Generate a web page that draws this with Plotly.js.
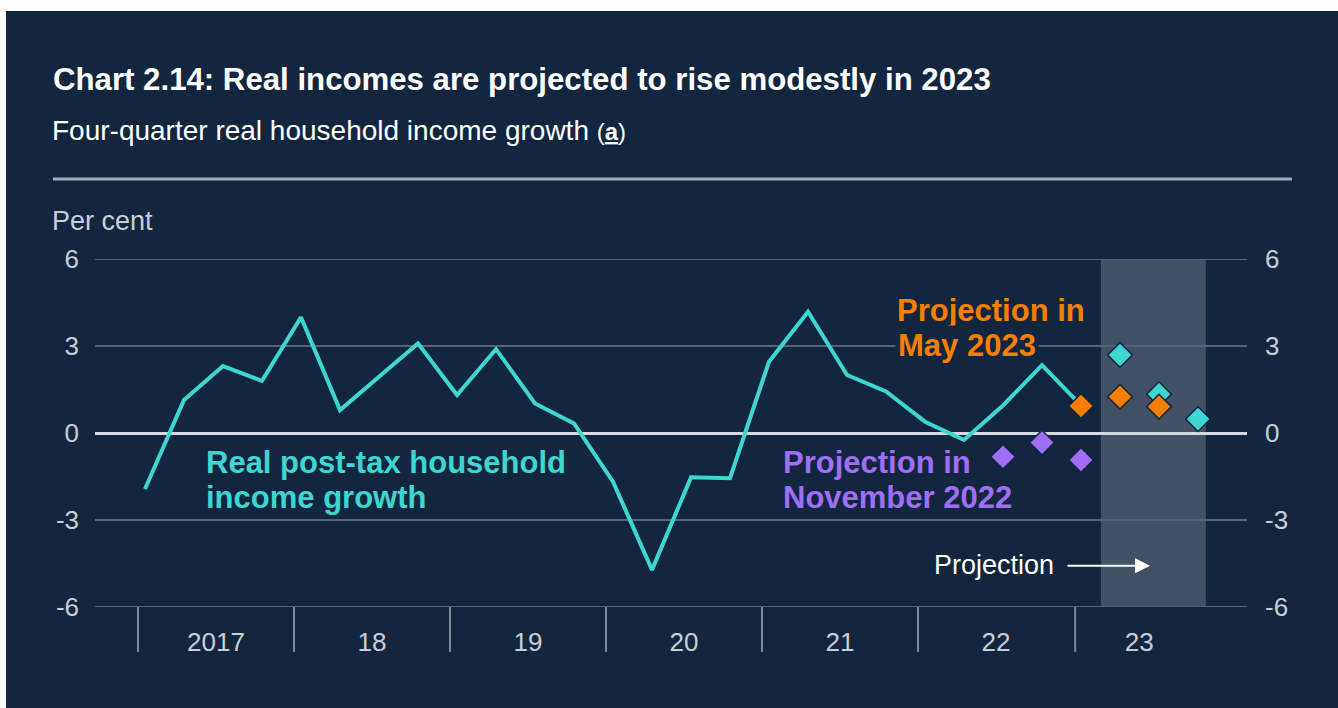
<!DOCTYPE html>
<html>
<head>
<meta charset="utf-8">
<script src="https://cdn.plot.ly/plotly-3.0.1.min.js"></script>
<style>
  html, body { margin: 0; padding: 0; background: #ffffff; width: 1338px; height: 708px; overflow: hidden; }
  #chart { position: absolute; left: 6px; top: 11px; width: 1332px; height: 697px; }
</style>
</head>
<body>
<div id="chart"></div>
<script>
// ---- data ----
const quarters = [
  "2017 Q1","2017 Q2","2017 Q3","2017 Q4",
  "2018 Q1","2018 Q2","2018 Q3","2018 Q4",
  "2019 Q1","2019 Q2","2019 Q3","2019 Q4",
  "2020 Q1","2020 Q2","2020 Q3","2020 Q4",
  "2021 Q1","2021 Q2","2021 Q3","2021 Q4",
  "2022 Q1","2022 Q2","2022 Q3","2022 Q4",
  "2023 Q1","2023 Q2","2023 Q3","2023 Q4"
];
const incomeGrowth = [-1.93, 1.14, 2.31, 1.80, 3.99, 0.79, 1.94, 3.09, 1.31, 2.89, 1.02, 0.33,
  -1.68, -4.72, -1.53, -1.56, 2.46, 4.18, 2.00, 1.43, 0.39, -0.24, 0.95, 2.34, 0.95];
const currentProjQuarters = ["2023 Q2", "2023 Q3", "2023 Q4"];
const currentProjValues = [2.69, 1.34, 0.48];
const mayProjQuarters = ["2023 Q1", "2023 Q2", "2023 Q3"];
const mayProjValues = [0.93, 1.25, 0.91];
const novProjQuarters = ["2022 Q3", "2022 Q4", "2023 Q1"];
const novProjValues = [-0.82, -0.33, -0.93];
const yearLabels = ["2017", "18", "19", "20", "21", "22", "23"];
const yTicks = [-6, -3, 0, 3, 6];
const yTickText = ["-6", "-3", "0", "3", "6"];

// ---- styling ----
const BG = "#13263f";
const CYAN = "#3ed6d0";
const ORANGE = "#f77f00";
const PURPLE = "#a06ef5";
const TICK = "#c9ced6";
const GRID = "#566377";
const FONT = 'Arial, "Liberation Sans", sans-serif';

const qx = q => quarters.indexOf(q);
const incomeX = incomeGrowth.map((v, i) => i);

// year separators & label positions (quarter-index units)
const sepPos = yearLabels.map((y, i) => i === 6 ? 23.85 : 4 * i - 0.18);
const labelPos = yearLabels.map((y, i) => i === 6 ? 25.49 : 4 * i + 1.82);

const diamond = (color) => ({ symbol: "diamond", size: 19, color: color, line: { color: BG, width: 1.5 } });

const traces = [
  { x: incomeX, y: incomeGrowth, type: "scatter", mode: "lines",
    line: { color: CYAN, width: 4 }, hoverinfo: "y" },
  { x: currentProjQuarters.map(qx), y: currentProjValues, type: "scatter", mode: "markers",
    marker: diamond(CYAN), hoverinfo: "y" },
  { x: mayProjQuarters.map(qx), y: mayProjValues, type: "scatter", mode: "markers",
    marker: diamond(ORANGE), hoverinfo: "y" },
  { x: novProjQuarters.map(qx), y: novProjValues, type: "scatter", mode: "markers", yaxis: "y2",
    marker: diamond(PURPLE), hoverinfo: "y" }
];

const shapes = [
  { type: "line", xref: "paper", yref: "paper", x0: -0.0365, x1: 1.039, y0: 1.2299, y1: 1.2299,
    line: { color: "#a3acb8", width: 3 } },
  { type: "rect", xref: "x", yref: "y", x0: 24.51, x1: 27.2, y0: -6, y1: 6,
    fillcolor: "rgba(255,255,255,0.2)", line: { width: 0 }, layer: "below" },
  // outer gridlines at the range edges
  { type: "line", xref: "paper", yref: "y", x0: 0, x1: 1, y0: 6, y1: 6, line: { color: GRID, width: 2 } },
  { type: "line", xref: "paper", yref: "y", x0: 0, x1: 1, y0: -6, y1: -6, line: { color: GRID, width: 2 } }
].concat(sepPos.map(p => ({
  type: "line", xref: "x", yref: "paper", x0: p, x1: p, y0: 0, y1: -0.129,
  line: { color: "#7f8a9a", width: 2 }
})));

const lab = (text, x, y, color, size, extra) => Object.assign({
  text: text, x: x, y: y, xref: "x", yref: "y", xanchor: "left", yanchor: "middle",
  showarrow: false, font: { family: FONT, size: size, color: color }
}, extra || {});

const annotations = [
  { text: 'Four-quarter real household income growth <span style="font-size:24px">(<span style="text-decoration:underline;text-decoration-color:#3ed6d0;text-decoration-thickness:2px"><b>a</b></span>)</span>',
    xref: "paper", yref: "paper", x: -0.0392, y: 1.368, xanchor: "left", yanchor: "middle",
    showarrow: false, font: { family: FONT, size: 28, color: "#ffffff" } },
  { text: "Per cent", xref: "paper", yref: "paper", x: -0.0392, y: 1.109, xanchor: "left", yanchor: "middle",
    showarrow: false, font: { family: FONT, size: 27, color: TICK } },
  lab("<b>Real post-tax household</b>", 1.52, -1.03, CYAN, 31),
  lab("<b>income growth</b>", 1.52, -2.21, CYAN, 31),
  lab("<b>Projection in</b>", 16.32, -1.03, PURPLE, 31),
  lab("<b>November 2022</b>", 16.32, -2.21, PURPLE, 31),
  lab("<b>Projection in</b>", 19.24, 4.21, ORANGE, 31),
  lab("<b>May 2023</b>", 19.24, 3.03, ORANGE, 31, { bgcolor: BG, borderpad: 2 }),
  lab("Projection", 23.36, -4.55, "#ffffff", 27, { xanchor: "right" }),
  { text: "", x: 25.77, y: -4.58, xref: "x", yref: "y", showarrow: true, ax: -84, ay: 0,
    arrowhead: 2, arrowsize: 1.5, arrowwidth: 2, arrowcolor: "#ffffff", standoff: 0 }
];

const axisFont = { family: FONT, size: 26, color: TICK };

const layout = {
  width: 1332, height: 697,
  paper_bgcolor: BG, plot_bgcolor: BG,
  margin: { l: 89, r: 91, t: 248, b: 101 },
  showlegend: false,
  title: { text: "<b>Chart 2.14: Real incomes are projected to rise modestly in 2023</b>",
    x: 0.0353, xanchor: "left", xref: "container", y: 0.9017, yanchor: "middle", yref: "container",
    font: { family: FONT, size: 31.2, color: "#ffffff" } },
  xaxis: { range: [-1.282, 28.256], showgrid: false, zeroline: false, showline: false,
    tickmode: "array", tickvals: labelPos, ticktext: yearLabels, ticks: "",
    tickfont: axisFont, ticklabelstandoff: 17, fixedrange: true },
  yaxis: { range: [-6, 6], tickmode: "array", tickvals: yTicks, ticktext: yTickText, ticks: "",
    showgrid: true, gridcolor: GRID, gridwidth: 2,
    zeroline: true, zerolinecolor: "#d5d9e0", zerolinewidth: 3,
    showline: false, tickfont: axisFont, ticklabelstandoff: 15, fixedrange: true },
  yaxis2: { range: [-6, 6], overlaying: "y", side: "right", tickmode: "array", tickvals: yTicks,
    ticktext: yTickText, ticks: "", showgrid: false, zeroline: false, showline: false,
    tickfont: axisFont, ticklabelstandoff: 17, fixedrange: true },
  shapes: shapes,
  annotations: annotations
};

Plotly.newPlot("chart", traces, layout, { displayModeBar: false, staticPlot: true });
</script>
</body>
</html>
